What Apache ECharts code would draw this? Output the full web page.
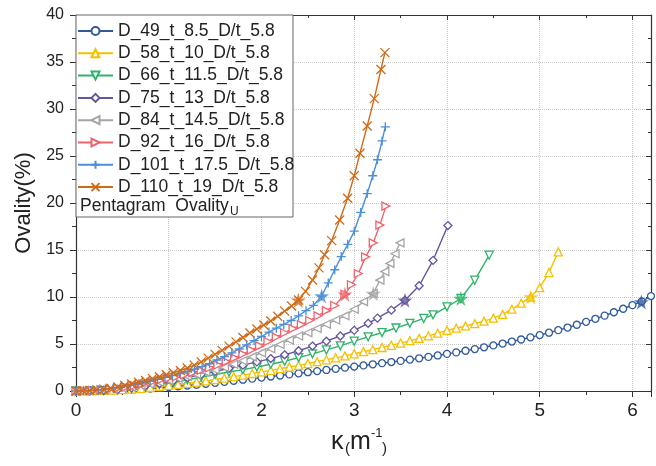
<!DOCTYPE html>
<html><head><meta charset="utf-8">
<script src="https://cdn.jsdelivr.net/npm/echarts@6/dist/echarts.min.js"></script>
<style>html,body{margin:0;padding:0;background:#fff}#c{width:656px;height:466px}</style>
</head><body><div id="c"></div>
<script>
const seriesNames = ['D_49_t_8.5_D/t_5.8','D_58_t_10_D/t_5.8','D_66_t_11.5_D/t_5.8','D_75_t_13_D/t_5.8','D_84_t_14.5_D/t_5.8','D_92_t_16_D/t_5.8','D_101_t_17.5_D/t_5.8','D_110_t_19_D/t_5.8'];
const xTicks = [0,1,2,3,4,5,6];
const yTicks = [0,5,10,15,20,25,30,35,40];

const d49 = [[0,0],[0.1,0.01],[0.2,0.02],[0.3,0.04],[0.4,0.07],[0.5,0.1],[0.6,0.14],[0.7,0.2],[0.8,0.26],[0.9,0.34],[1.0,0.42],[1.1,0.5],[1.2,0.58],[1.3,0.67],[1.4,0.77],[1.5,0.87],[1.6,0.98],[1.7,1.09],[1.8,1.2],[1.9,1.31],[2.0,1.43],[2.1,1.54],[2.2,1.65],[2.3,1.77],[2.4,1.88],[2.5,2.0],[2.6,2.12],[2.7,2.24],[2.8,2.36],[2.9,2.48],[3.0,2.6],[3.1,2.72],[3.2,2.84],[3.3,2.96],[3.4,3.08],[3.5,3.2],[3.6,3.34],[3.7,3.48],[3.8,3.63],[3.9,3.78],[4.0,3.95],[4.1,4.11],[4.2,4.28],[4.3,4.46],[4.4,4.65],[4.5,4.85],[4.6,5.05],[4.7,5.26],[4.8,5.48],[4.9,5.71],[5.0,5.95],[5.1,6.2],[5.2,6.47],[5.3,6.75],[5.4,7.05],[5.5,7.36],[5.6,7.68],[5.7,8.02],[5.8,8.38],[5.9,8.75],[6.0,9.13],[6.1,9.52],[6.2,10.1]];
const d58 = [[0,0],[0.1,0.01],[0.2,0.03],[0.3,0.06],[0.4,0.1],[0.5,0.14],[0.6,0.2],[0.7,0.28],[0.8,0.37],[0.9,0.48],[1.0,0.59],[1.1,0.7],[1.2,0.82],[1.3,0.95],[1.4,1.08],[1.5,1.22],[1.6,1.38],[1.7,1.53],[1.8,1.69],[1.9,1.86],[2.0,2.03],[2.1,2.2],[2.2,2.37],[2.3,2.55],[2.4,2.73],[2.5,2.92],[2.6,3.12],[2.7,3.32],[2.8,3.53],[2.9,3.74],[3.0,3.96],[3.1,4.18],[3.2,4.4],[3.3,4.63],[3.4,4.86],[3.5,5.1],[3.6,5.35],[3.7,5.6],[3.8,5.87],[3.9,6.15],[4.0,6.45],[4.1,6.68],[4.2,6.92],[4.3,7.17],[4.4,7.43],[4.5,7.75],[4.6,8.15],[4.7,8.7],[4.8,9.35],[4.9,9.98],[5.0,11.0],[5.1,12.6],[5.2,14.8]];
const d66 = [[0,0],[0.15,0.01],[0.3,0.05],[0.45,0.14],[0.6,0.28],[0.75,0.46],[0.9,0.68],[1.05,0.93],[1.2,1.2],[1.35,1.48],[1.5,1.75],[1.65,2.02],[1.8,2.28],[1.95,2.55],[2.1,2.85],[2.25,3.17],[2.4,3.55],[2.55,3.95],[2.7,4.37],[2.85,4.8],[3.0,5.3],[3.15,5.76],[3.3,6.22],[3.45,6.7],[3.6,7.2],[3.75,7.72],[3.85,8.1],[4.0,8.95],[4.15,9.84],[4.3,11.79],[4.455,14.45]];
const d75 = [[0,0],[0.15,0.02],[0.3,0.07],[0.45,0.17],[0.6,0.33],[0.75,0.55],[0.9,0.8],[1.05,1.1],[1.2,1.42],[1.35,1.75],[1.5,2.08],[1.65,2.42],[1.8,2.75],[1.95,3.1],[2.1,3.45],[2.25,3.85],[2.4,4.28],[2.55,4.78],[2.7,5.3],[2.85,5.85],[3.0,6.45],[3.15,7.2],[3.25,7.75],[3.4,8.6],[3.547,9.66],[3.7,11.2],[3.85,13.9],[4.01,17.6]];
const d84 = [[0,0],[0.1,0.02],[0.2,0.06],[0.3,0.12],[0.4,0.2],[0.5,0.31],[0.6,0.44],[0.7,0.6],[0.8,0.77],[0.9,0.96],[1.0,1.15],[1.1,1.36],[1.2,1.56],[1.3,1.76],[1.4,2.0],[1.5,2.25],[1.6,2.53],[1.7,2.85],[1.8,3.22],[1.9,3.63],[2.0,4.06],[2.1,4.49],[2.2,4.95],[2.3,5.42],[2.4,5.85],[2.5,6.2],[2.6,6.65],[2.7,7.1],[2.8,7.55],[2.9,8.0],[3.0,8.7],[3.1,9.5],[3.205,10.37],[3.277,11.79],[3.33,12.7],[3.385,13.57],[3.44,14.6],[3.493,15.76]];
const d92 = [[0,0],[0.09,0.02],[0.18,0.06],[0.27,0.12],[0.36,0.2],[0.45,0.3],[0.54,0.43],[0.63,0.58],[0.72,0.75],[0.81,0.93],[0.9,1.12],[0.99,1.32],[1.08,1.52],[1.17,1.73],[1.26,1.95],[1.35,2.2],[1.44,2.47],[1.53,2.77],[1.62,3.12],[1.71,3.52],[1.8,3.93],[1.89,4.35],[1.98,4.8],[2.07,5.27],[2.16,5.74],[2.25,6.2],[2.34,6.64],[2.43,7.06],[2.52,7.5],[2.61,8.0],[2.7,8.55],[2.79,9.1],[2.9,10.3],[2.97,11.3],[3.044,12.5],[3.123,14.27],[3.205,15.76],[3.277,17.65],[3.342,19.67]];
const d101 = [[0,0],[0.08,0.02],[0.16,0.06],[0.24,0.11],[0.32,0.19],[0.4,0.29],[0.48,0.4],[0.56,0.55],[0.64,0.71],[0.72,0.88],[0.8,1.06],[0.88,1.25],[0.96,1.45],[1.04,1.64],[1.12,1.85],[1.2,2.07],[1.28,2.32],[1.36,2.59],[1.44,2.9],[1.52,3.3],[1.6,3.66],[1.68,4.05],[1.76,4.47],[1.84,4.9],[1.92,5.35],[2.0,5.8],[2.08,6.27],[2.16,6.68],[2.24,7.08],[2.32,7.5],[2.4,8.0],[2.48,8.55],[2.56,9.1],[2.649,10.1],[2.72,11.5],[2.79,12.9],[2.86,14.3],[2.93,15.6],[3.0,17.0],[3.07,19.0],[3.14,21.0],[3.2,22.9],[3.25,24.6],[3.3,26.6],[3.335,28.1]];
const d110 = [[0,0],[0.075,0.02],[0.15,0.06],[0.225,0.12],[0.3,0.2],[0.375,0.3],[0.45,0.43],[0.525,0.58],[0.6,0.75],[0.675,0.93],[0.75,1.12],[0.825,1.32],[0.9,1.52],[0.975,1.72],[1.05,1.94],[1.125,2.18],[1.2,2.45],[1.275,2.75],[1.35,3.1],[1.425,3.5],[1.5,3.9],[1.575,4.32],[1.65,4.77],[1.725,5.23],[1.8,5.7],[1.875,6.17],[1.95,6.6],[2.025,7.02],[2.1,7.45],[2.175,7.95],[2.25,8.5],[2.325,9.05],[2.4,9.68],[2.475,10.6],[2.55,11.8],[2.62,13.1],[2.68,14.5],[2.757,16.0],[2.843,18.2],[2.929,20.5],[3.0,22.9],[3.062,25.3],[3.14,28.2],[3.216,31.1],[3.288,34.2],[3.331,36.0]];
const starPoints = [[6.096,9.48],[4.904,10.0],[4.15,9.84],[3.547,9.66],[3.205,10.37],[2.90,10.3],[2.649,10.1],[2.397,9.66]];

const seriesData = [d49,d58,d66,d75,d84,d92,d101,d110];
const colors = ['#2f5a9e','#f5c000','#2fb36a','#65559f','#a5a5a5','#f0626c','#4b8fd8','#cf6a17'];
const symbols = ['circle','triangle','path://M0,0L10,0L5,9Z','diamond','path://M0,5L9,0L9,10Z','path://M9,5L0,0L0,10Z','path://M0,5L10,5M5,0L5,10','path://M0,0L10,10M10,0L0,10'];
const symSizes = [7,8,8,8,8,8,9,9];
const hollow = [true,true,true,true,true,true,false,false];
const STAR = 'path://M50,0L61,35L98,35L68,57L79,91L50,70L21,91L32,57L2,35L39,35Z';

const chart = echarts.init(document.getElementById('c'), null, {renderer:'canvas'});
const font = 'Liberation Sans, Arial, sans-serif';
const series = seriesNames.map((n,i)=>({
  name:n, type:'line', data:seriesData[i], xAxisIndex:0, yAxisIndex:0,
  symbol:symbols[i], symbolSize:symSizes[i], showSymbol:true, showAllSymbol:true,
  lineStyle:{color:colors[i], width:1.4},
  itemStyle:{color: hollow[i] ? '#ffffff' : colors[i], borderColor:colors[i], borderWidth:1.3},
  z: 2+i, clip:true
}));
series.push({
  name:'stars', type:'scatter', xAxisIndex:0, yAxisIndex:0, symbol:STAR, symbolSize:15, z:20,
  data: starPoints.map((p,i)=>({value:p, itemStyle:{color:colors[i]}}))
});

const ax = {color:'#333'};
const tc = '#222';
chart.setOption({
  animation:false,
  backgroundColor:'#fff',
  grid:{left:76, right:5, top:15, bottom:75},
  xAxis:[{
    type:'value', min:0, max:6.2, interval:1, position:'bottom',
    axisLine:{show:true, onZero:false, lineStyle:{color:'#333', width:1.2}},
    axisTick:{show:true, inside:false, length:6, lineStyle:ax},
    minorTick:{show:true, splitNumber:2, length:4, lineStyle:ax},
    axisLabel:{fontSize:19, color:tc, fontFamily:font, margin:10, showMaxLabel:false,
      formatter:v=> xTicks.includes(v) ? String(v) : ''},
    splitLine:{show:true, lineStyle:{color:'#c8c8c8', type:'dotted', width:1}}
  },{
    type:'value', min:0, max:6.2, interval:1, position:'top',
    axisLine:{show:true, onZero:false, lineStyle:{color:'#333', width:1.2}},
    axisTick:{show:true, inside:true, length:5, lineStyle:ax},
    minorTick:{show:true, splitNumber:2, length:3, lineStyle:ax},
    axisLabel:{show:false}, splitLine:{show:false}
  }],
  yAxis:[{
    type:'value', min:0, max:40, interval:5, position:'left',
    axisLine:{show:true, onZero:false, lineStyle:{color:'#333', width:1.2}},
    axisTick:{show:true, inside:false, length:6, lineStyle:ax},
    minorTick:{show:true, splitNumber:2, length:4, lineStyle:ax},
    axisLabel:{fontSize:16, color:tc, fontFamily:font, margin:12,
      formatter:v=> yTicks.includes(v) ? String(v) : ''},
    splitLine:{show:true, lineStyle:{color:'#c8c8c8', type:'dotted', width:1}},
    name:'Ovality(%)', nameLocation:'middle', nameGap:40, nameRotate:90,
    nameTextStyle:{fontSize:22, fontFamily:font, color:tc}
  },{
    type:'value', min:0, max:40, interval:5, position:'right',
    axisLine:{show:true, onZero:false, lineStyle:{color:'#333', width:1.2}},
    axisTick:{show:true, inside:true, length:5, lineStyle:ax},
    minorTick:{show:true, splitNumber:2, length:3, lineStyle:ax},
    axisLabel:{show:false}, splitLine:{show:false}
  }],
  legend:{
    data:seriesNames, orient:'vertical', left:77, top:22, padding:0, itemWidth:35, itemHeight:10, itemGap:4.3,
    textStyle:{fontSize:17.5, fontFamily:font, color:tc, lineHeight:17}, z:30
  },
  graphic:[
    {type:'rect', x:76, y:15, z:25, shape:{x:0, y:0, width:217, height:202}, style:{fill:'#fff', stroke:'#666', lineWidth:1}},
    {type:'text', x:80, y:206, z:40, style:{text:'Pentagram  Ovality', font:'17.5px '+font, fill:tc, verticalAlign:'middle', align:'left'}},
    {type:'text', x:230, y:212, z:40, style:{text:'U', font:'12px '+font, fill:tc, verticalAlign:'middle', align:'left'}},
    {type:'text', x:331, y:455, z:31, style:{text:'κ', font:'25px '+font, fill:tc, verticalAlign:'bottom', align:'left'}},
    {type:'text', x:345, y:456, z:31, style:{text:'(', font:'15px '+font, fill:tc, verticalAlign:'bottom', align:'left'}},
    {type:'text', x:350, y:455, z:31, style:{text:'m', font:'25px '+font, fill:tc, verticalAlign:'bottom', align:'left'}},
    {type:'text', x:371, y:440, z:31, style:{text:'-1', font:'13px '+font, fill:tc, verticalAlign:'bottom', align:'left'}},
    {type:'text', x:382, y:456, z:31, style:{text:')', font:'15px '+font, fill:tc, verticalAlign:'bottom', align:'left'}}
  ],
  series:series
});
</script></body></html>
